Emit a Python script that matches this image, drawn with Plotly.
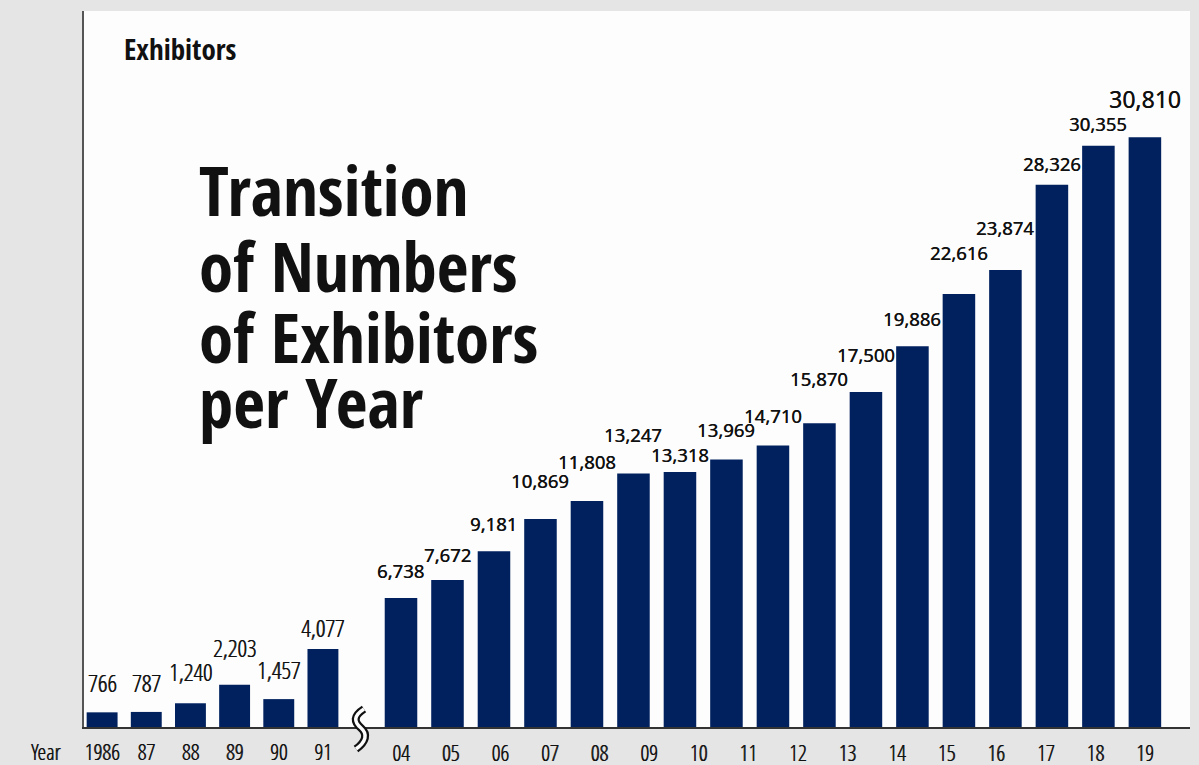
import numpy as np
import plotly.graph_objects as go

# early years (left of the axis break)
left_years = ["1986", "87", "88", "89", "90", "91"]
left_vals = [766, 787, 1240, 2203, 1457, 4077]

# later years (right of the axis break): 17 bars, 16 year labels as printed
right_years = ["04", "05", "06", "07", "08", "09", "10", "11", "12", "13",
               "14", "15", "16", "17", "18", "19"]
right_vals = [6738, 7672, 9181, 10869, 11808, 13247, 13318, 13969, 14710,
              15870, 17500, 19886, 22616, 23874, 28326, 30355, 30810]

# label gap above each bar (px), staggered as in the original
left_gap = [20, 20, 22, 28, 20, 12]
right_gap = [20, 18, 20, 31, 32, 31, 10, 23, 22, 37, 30, 20, 34, 35, 14, 15, 27]

NAVY = "#01215e"
INK = "#111111"
BOLD = "Open Sans Condensed, Noto Sans"
LIGHT = "Open Sans Condensed Light, Open Sans Condensed, Noto Sans"
THICK = "0.6px 0 0 #111111"   # fattens the light condensed face a bit

fig = go.Figure()
fig.add_bar(x=list(range(len(left_vals))), y=left_vals, marker_color=NAVY,
            marker_line_width=0, xaxis="x", yaxis="y")
fig.add_bar(x=list(range(len(right_vals))), y=right_vals, marker_color=NAVY,
            marker_line_width=0, xaxis="x2", yaxis="y")

ann = []
for i, v in enumerate(left_vals):
    ann.append(dict(x=i, y=v, xref="x", yref="y", text=f"{v:,}", showarrow=False,
                    yanchor="bottom", yshift=left_gap[i] - 9,
                    font=dict(family=LIGHT, size=24, color=INK, shadow=THICK)))
for i, v in enumerate(right_vals):
    big = i == len(right_vals) - 1
    ann.append(dict(x=i, y=v, xref="x2", yref="y", text=f"{v:,}", showarrow=False,
                    yanchor="bottom", yshift=right_gap[i] - 7,
                    font=dict(family="Noto Sans", size=23 if big else 18.5, color=INK,
                              shadow="0.3px 0 0 #111111")))

ann.append(dict(x=-0.0344, y=-0.034, xref="paper", yref="paper", text="Year",
                xanchor="center", yanchor="middle", showarrow=False,
                font=dict(family=LIGHT, size=22, color=INK, shadow=THICK)))
ann.append(dict(x=0.0343, y=0.948, xref="paper", yref="paper", text="Exhibitors",
                xanchor="left", yanchor="middle", showarrow=False,
                font=dict(family=BOLD, size=29, color=INK)))
for txt, yy in zip(["Transition", "of Numbers", "of Exhibitors", "per Year"],
                   [0.751, 0.645, 0.546, 0.455]):
    ann.append(dict(x=0.102, y=yy, xref="paper", yref="paper", text=txt,
                    xanchor="left", yanchor="middle", showarrow=False,
                    font=dict(family=BOLD, size=69, color=INK)))

# axis break squiggle (decoration)
def px(xp, yp):
    return (xp - 84) / 1106, (727 - yp) / 716

pts = [(364, 709), (353, 716), (354, 722), (361, 728), (368, 734), (366, 742), (356, 749)]
conv = [px(a, b) for a, b in pts]
path = "M {},{} C {},{} {},{} {},{} C {},{} {},{} {},{}".format(
    *[c for p in conv for c in p])
shapes = [
    dict(type="path", path=path, xref="paper", yref="paper", line=dict(color="#111", width=8)),
    dict(type="path", path=path, xref="paper", yref="paper", line=dict(color="#fdfdfd", width=3.5)),
]

tick_font = dict(family=LIGHT, size=22, color=INK, shadow=THICK)
fig.update_layout(
    template="none",
    width=1199, height=765, margin=dict(l=84, r=9, t=11, b=38, autoexpand=False),
    paper_bgcolor="#e5e5e5", plot_bgcolor="#fdfdfd",
    showlegend=False, bargap=0.30,
    xaxis=dict(domain=[0, 0.236], range=[-0.41, 5.5], tickvals=list(range(len(left_years))),
               ticktext=left_years, showgrid=False, zeroline=False, showline=True,
               linecolor="#333", linewidth=1.5, ticks="", ticklabelstandoff=5,
               automargin=False, tickfont=tick_font),
    xaxis2=dict(domain=[0.236, 1], range=[-1.204, 16.97],
                tickvals=list(np.linspace(0, len(right_vals) - 1, len(right_years))),
                ticktext=right_years, anchor="y", showgrid=False, zeroline=False, showline=True,
                linecolor="#333", linewidth=1.5, ticks="", ticklabelstandoff=6,
                automargin=False, tickfont=tick_font),
    yaxis=dict(range=[0, 37400], showgrid=False, zeroline=False, showticklabels=False,
               showline=True, linecolor="#555", linewidth=2, ticks="", automargin=False),
    annotations=ann, shapes=shapes,
)
fig.write_html("out.html", config={"displayModeBar": False},
               post_script="document.body.style.margin='0';")
